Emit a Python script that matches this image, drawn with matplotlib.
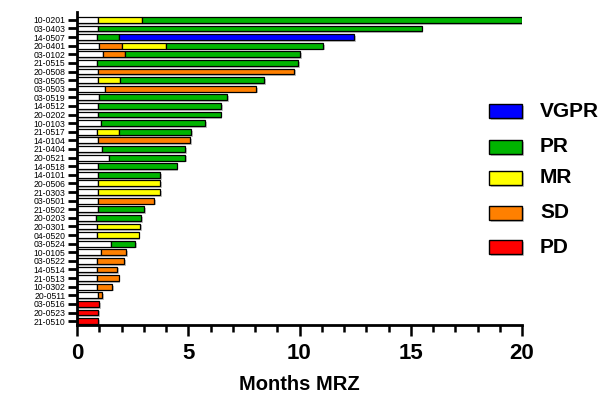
import matplotlib
matplotlib.use("Agg")
import matplotlib.pyplot as plt
from matplotlib.patches import Rectangle
import matplotlib.patheffects as pe
from matplotlib.ticker import MultipleLocator

plt.rcParams['font.family'] = ['Liberation Sans', 'DejaVu Sans']

patients = ["10-0201", "03-0403", "14-0507", "20-0401", "03-0102", "21-0515",
            "20-0508", "03-0505", "03-0503", "03-0519", "14-0512", "20-0202",
            "10-0103", "21-0517", "14-0104", "21-0404", "20-0521", "14-0518",
            "14-0101", "20-0506", "21-0303", "03-0501", "21-0502", "20-0203",
            "20-0301", "04-0520", "03-0524", "10-0105", "03-0522", "14-0514",
            "21-0513", "10-0302", "20-0511", "03-0516", "20-0523", "21-0510"]

# baseline (white) segment end, months
baseline_end = [0.95, 0.95, 0.92, 1.00, 1.17, 0.92, 0.95, 0.95, 1.28, 0.99, 0.95, 0.95,
                1.10, 0.90, 0.95, 1.12, 1.44, 0.95, 0.95, 0.95, 0.95, 0.95, 0.95, 0.87,
                0.92, 0.92, 1.55, 1.07, 0.92, 0.92, 0.92, 0.92, 0.95, 0.0, 0.0, 0.0]

# response segments (category, end in months); None = no segment
resp1_cat = ["MR", "PR", "PR", "SD", "SD", "PR", "SD", "MR", "SD", "PR", "PR", "PR",
             "PR", "MR", "SD", "PR", "PR", "PR", "PR", "MR", "MR", "SD", "PR", "PR",
             "MR", "MR", "PR", "SD", "SD", "SD", "SD", "SD", "SD", "PD", "PD", "PD"]
resp1_end = [2.94, 15.49, 1.89, 2.00, 2.16, 9.94, 9.74, 1.93, 8.05, 6.74, 6.49, 6.45,
             5.75, 1.89, 5.08, 4.86, 4.86, 4.48, 3.72, 3.72, 3.72, 3.45, 3.01, 2.88,
             2.82, 2.77, 2.60, 2.20, 2.10, 1.80, 1.87, 1.57, 1.12, 1.00, 0.95, 0.95]
resp2_cat = ["PR", None, "VGPR", "MR", "PR", None, None, "PR", None, None, None, None,
             None, "PR", None, None, None, None, None, None, None, None, None, None,
             None, None, None, None, None, None, None, None, None, None, None, None]
resp2_end = [20.0, None, 12.47, 3.99, 10.03, None, None, 8.42, None, None, None, None,
             None, 5.11, None, None, None, None, None, None, None, None, None, None,
             None, None, None, None, None, None, None, None, None, None, None, None]
resp3_cat = [None, None, None, "PR"] + [None] * 32
resp3_end = [None, None, None, 11.06] + [None] * 32

legend_labels = ["VGPR", "PR", "MR", "SD", "PD"]
colors = {"VGPR": "#0000FF", "PR": "#00B400", "MR": "#FFFF00",
          "SD": "#FF8000", "PD": "#FF0000", "base": "#FFFFFF"}

W, H = 602, 394
fig = plt.figure(figsize=(W / 100, H / 100), dpi=100)
ax = fig.add_axes([77 / W, 1 - 325 / H, (522 - 77) / W, (325 - 11.7) / H])

shadow = [pe.SimplePatchShadow(offset=(1.3, -1.3), shadow_rgbFace='#999999', alpha=0.6),
          pe.Normal()]
bar_h = 0.68
ypos = list(range(len(patients)))

def draw(starts, ends, cats):
    for y, s, e, c in zip(ypos, starts, ends, cats):
        if c is None or e is None or e <= s:
            continue
        b = ax.barh(y, e - s, left=s, height=bar_h, color=colors[c],
                    edgecolor='black', linewidth=0.9)
        for p in b:
            p.set_path_effects(shadow)

draw([0.0] * len(patients), baseline_end, ["base"] * len(patients))
draw(baseline_end, resp1_end, resp1_cat)
draw(resp1_end, resp2_end, resp2_cat)
draw([r if r is not None else 0 for r in resp2_end], resp3_end, resp3_cat)

ax.set_xlim(0, 20)
ax.set_ylim(35.45, -0.95)
ax.set_yticks(ypos)
ax.set_yticklabels(patients, fontsize=6.2)
ax.xaxis.set_major_locator(MultipleLocator(5))
ax.xaxis.set_minor_locator(MultipleLocator(1))
ax.tick_params(axis='y', length=6.5, width=2.0, pad=2)
ax.tick_params(axis='x', which='major', length=8, width=1.8, labelsize=16, pad=5)
ax.tick_params(axis='x', which='minor', length=5, width=1.8)
for lab in ax.get_xticklabels():
    lab.set_fontweight('bold')
for side in ['top', 'right']:
    ax.spines[side].set_visible(False)
for side in ['left', 'bottom']:
    ax.spines[side].set_linewidth(2.0)
ax.set_xlabel("Months MRZ", fontsize=14.5, fontweight='bold', labelpad=8)

# legend
leg_y = [111.3, 146.7, 177.7, 212.7, 247.0]
for lab, yc in zip(legend_labels, leg_y):
    r = Rectangle((489 / W, 1 - (yc + 7) / H), 33 / W, 14 / H, transform=fig.transFigure,
                  facecolor=colors[lab], edgecolor='black', linewidth=1.0)
    r.set_path_effects(shadow)
    fig.add_artist(r)
    fig.text(540 / W, 1 - yc / H, lab, fontsize=15, fontweight='bold',
             va='center', ha='left')

fig.savefig("out.png", dpi=100)
